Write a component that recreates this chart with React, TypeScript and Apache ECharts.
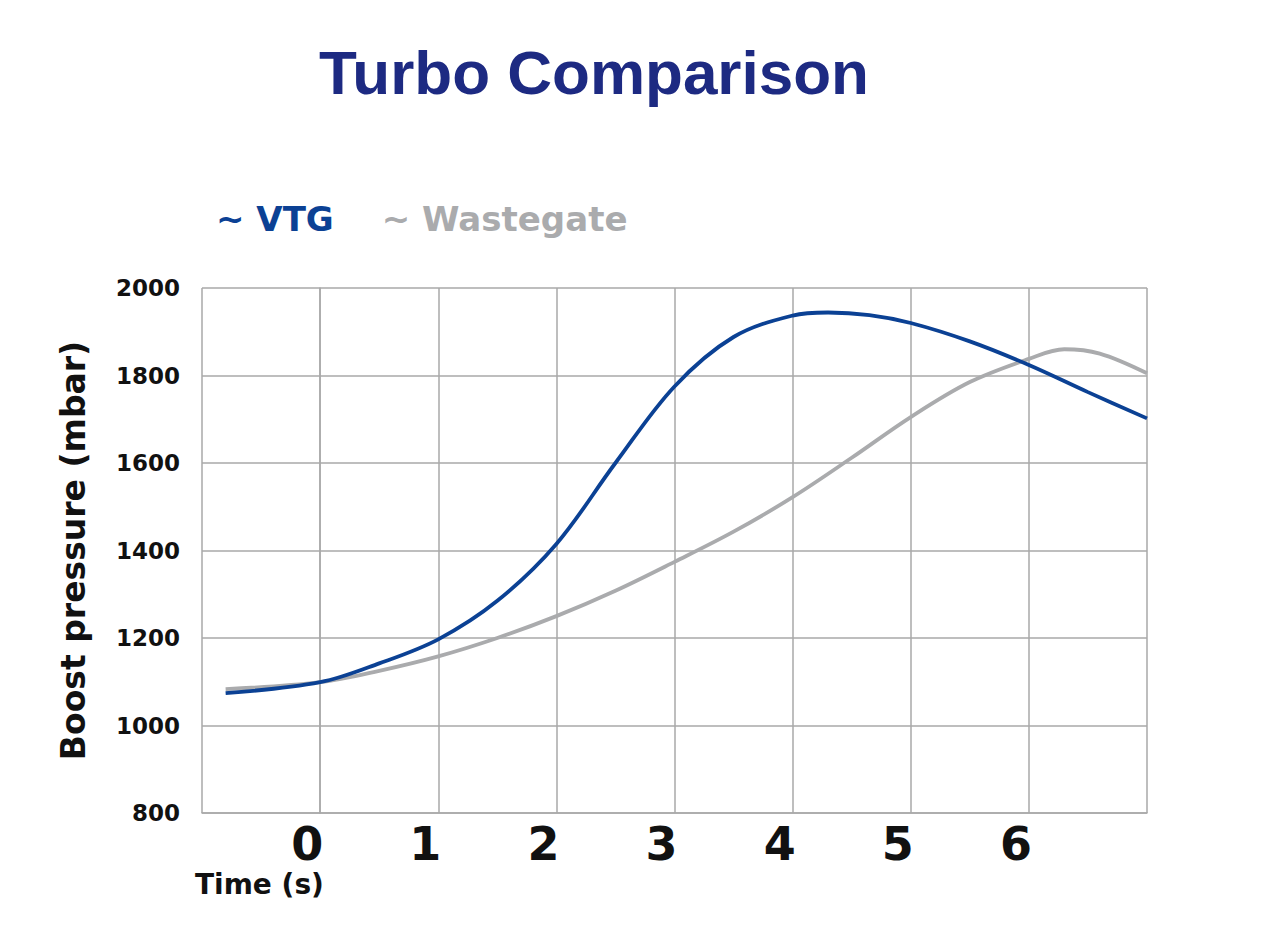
import React, { useEffect, useRef } from "react";
import * as echarts from "echarts";

const titleText = "Turbo Comparison";
const seriesNames = ["VTG", "Wastegate"];
const seriesColors = ["#0b4194", "#aaabad"];

const xTicks = [0, 1, 2, 3, 4, 5, 6];
const yTicks = [800, 1000, 1200, 1400, 1600, 1800, 2000];

const vtgTime = [-0.8, 0, 0.5, 1, 1.5, 2, 2.5, 3, 3.5, 4, 4.3, 4.65, 5, 5.5, 6, 6.5, 7];
const vtgBoost = [1074, 1099, 1142, 1197, 1285, 1415, 1600, 1775, 1888, 1937, 1944, 1938, 1920, 1878, 1824, 1762, 1702];

const wgTime = [-0.8, 0, 0.5, 1, 1.5, 2, 2.5, 3, 3.5, 4, 4.5, 5, 5.5, 6, 6.3, 6.6, 7];
const wgBoost = [1083, 1099, 1125, 1158, 1200, 1250, 1308, 1374, 1443, 1522, 1612, 1705, 1785, 1838, 1860, 1850, 1805];

const pairs = (xs: number[], ys: number[]) => xs.map((x, i) => [x, ys[i]]);

export default function App() {
  const ref = useRef<HTMLDivElement>(null);
  useEffect(() => {
    if (!ref.current) return;
    const chart = echarts.init(ref.current, undefined, { renderer: "svg" });
    const gridColor = "#a9a9a9";
    chart.setOption({
      animation: false,
      backgroundColor: "#ffffff",
      title: {
        text: titleText,
        left: 314,
        top: 36,
        textStyle: {
          color: "#1d2a82",
          fontSize: 62,
          fontWeight: "bold",
          fontFamily: "Liberation Sans",
        },
      },
      legend: {
        left: 205,
        top: 197,
        itemWidth: 0,
        itemHeight: 0,
        itemGap: 42,
        formatter: "~ {name}",
        textStyle: { fontSize: 34, fontWeight: "bold", fontFamily: "DejaVu Sans" },
        data: [
          { name: seriesNames[0], textStyle: { color: seriesColors[0] } },
          { name: seriesNames[1], textStyle: { color: seriesColors[1] } },
        ],
      },
      grid: { left: 202, right: 133, top: 288, bottom: 123, containLabel: false },
      xAxis: {
        type: "value",
        min: -1,
        max: 7,
        interval: 1,
        axisLine: { show: true, lineStyle: { color: gridColor, width: 1.5 } },
        axisTick: { show: false },
        splitLine: { show: true, lineStyle: { color: gridColor, width: 1.5 } },
        axisLabel: {
          formatter: (v: number) => (xTicks.includes(v) ? String(v) : ""),
          color: "#111111",
          fontSize: 46,
          fontWeight: "bold",
          fontFamily: "DejaVu Sans",
          margin: 8,
          padding: [0, 26, 0, 0],
        },
      },
      yAxis: {
        type: "value",
        min: yTicks[0],
        max: yTicks[yTicks.length - 1],
        interval: 200,
        name: "Boost pressure (mbar)",
        nameLocation: "middle",
        nameGap: 112,
        nameTextStyle: {
          color: "#111111",
          fontSize: 33,
          fontWeight: "bold",
          fontFamily: "DejaVu Sans",
          padding: [0, 0, 0, 0],
        },
        axisLine: { show: true, lineStyle: { color: gridColor, width: 1.5 } },
        axisTick: { show: false },
        splitLine: { show: true, lineStyle: { color: gridColor, width: 1.5 } },
        axisLabel: {
          formatter: (v: number) => String(v),
          color: "#111111",
          fontSize: 23,
          fontWeight: "bold",
          fontFamily: "DejaVu Sans",
          margin: 22,
        },
      },
      graphic: [
        {
          type: "text",
          left: 195,
          top: 870,
          style: {
            text: "Time (s)",
            fill: "#111111",
            fontSize: 28,
            fontWeight: "bold",
            fontFamily: "DejaVu Sans",
          },
        },
      ],
      series: [
        {
          name: seriesNames[1],
          type: "line",
          data: pairs(wgTime, wgBoost),
          smooth: 0.35,
          showSymbol: false,
          symbol: "none",
          lineStyle: { color: seriesColors[1], width: 3.8 },
          itemStyle: { color: seriesColors[1] },
        },
        {
          name: seriesNames[0],
          type: "line",
          data: pairs(vtgTime, vtgBoost),
          smooth: 0.35,
          showSymbol: false,
          symbol: "none",
          lineStyle: { color: seriesColors[0], width: 3.8 },
          itemStyle: { color: seriesColors[0] },
        },
      ],
    });
    return () => chart.dispose();
  }, []);
  return (
    <div
      ref={ref}
      style={{ position: "fixed", left: 0, top: 0, width: 1280, height: 936 }}
    />
  );
}
